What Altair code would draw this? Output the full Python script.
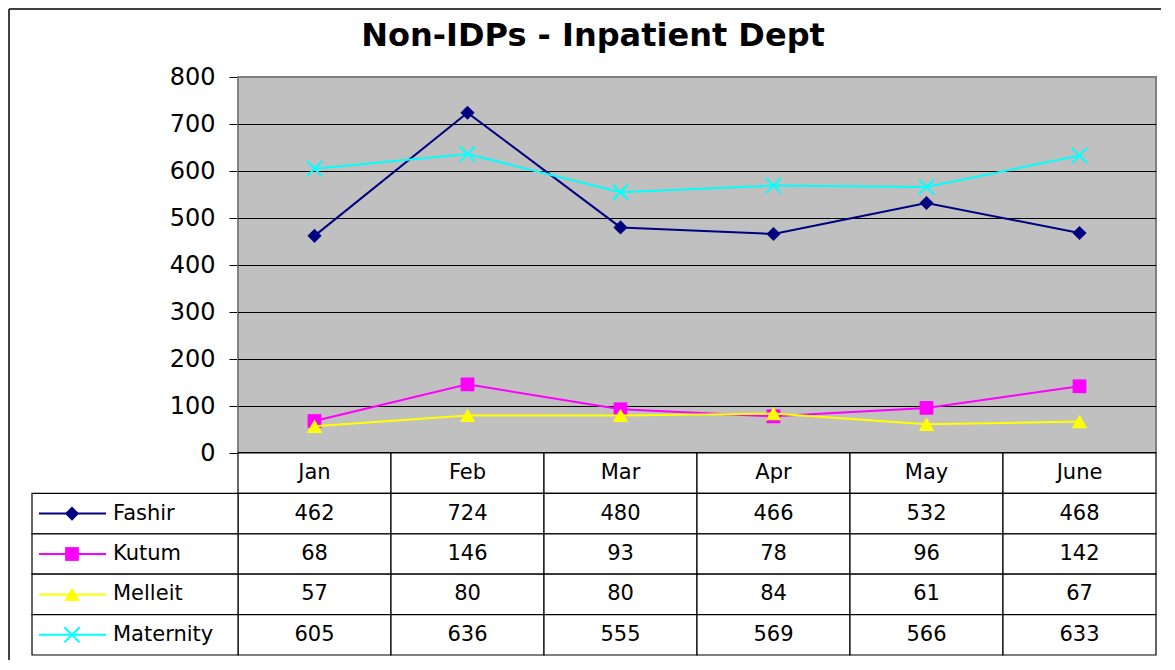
import altair as alt
import pandas as pd

# ---------------- data ----------------
title_text = "Non-IDPs - Inpatient Dept"
months = ["Jan", "Feb", "Mar", "Apr", "May", "June"]
series_names = ["Fashir", "Kutum", "Melleit", "Maternity"]
fashir = [462, 724, 480, 466, 532, 468]
kutum = [68, 146, 93, 78, 96, 142]
melleit = [57, 80, 80, 84, 61, 67]
maternity = [605, 636, 555, 569, 566, 633]
y_ticks = [0, 100, 200, 300, 400, 500, 600, 700, 800]
grid_values = [100, 200, 300, 400, 500, 600, 700]

# ---------------- styles ----------------
series_colors = ["#000080", "#FF00FF", "#FFFF00", "#00FFFF"]
X_PATH = "M-1,-1L1,1M-1,1L1,-1"
series_markers = [
    dict(shape="diamond", size=200, filled=True),
    dict(shape="square", size=190, filled=True),
    dict(shape="triangle-up", size=240, filled=True),
    dict(shape=X_PATH, size=230, filled=False),
]
FONT = "DejaVu Sans"
W, H_PLOT, H_TOTAL = 918, 376, 578

values_by_series = dict(zip(series_names, [fashir, kutum, melleit, maternity]))
rows = []
for s in series_names:
    for m, v in zip(months, values_by_series[s]):
        rows.append({"series": s, "row": s, "month": m, "value": v})
df = pd.DataFrame(rows)

HDR = "header"
df_hdr = pd.DataFrame({"month": months, "row": [HDR] * len(months)})
df_leg = pd.DataFrame({"row": series_names, "series": series_names})

xs = alt.Scale(type="band", domain=months, paddingInner=0, paddingOuter=0)
ys = alt.Scale(domain=[0, 800], range=[H_PLOT, 0], nice=False, zero=True)
ts = alt.Scale(type="band", domain=[HDR] + series_names,
               range=[H_PLOT, H_TOTAL], paddingInner=0, paddingOuter=0)

y_axis = alt.Axis(values=y_ticks, grid=False, domain=True,
                  domainColor="#606060", domainWidth=2,
                  tickColor="black", tickWidth=1, tickSize=9,
                  labelFont=FONT, labelFontSize=24, labelColor="black",
                  labelPadding=14)


def YQ(field):
    return alt.Y(field, scale=ys, axis=y_axis, title=None)


X = alt.X("month:N", scale=xs, axis=None, title=None)
YT = alt.Y("row:N", scale=ts, axis=None, title=None)

# ---------------- plot part ----------------
bg = alt.Chart(pd.DataFrame({"lo": [0], "hi": [800]})).mark_rect(
    fill="#C0C0C0", stroke="#808080", strokeWidth=2
).encode(x=alt.value(0), x2=alt.value(W), y=YQ("hi:Q"), y2="lo:Q")

grid = alt.Chart(pd.DataFrame({"v": grid_values})).mark_rule(
    color="black", strokeWidth=1, yOffset=0.5
).encode(y=YQ("v:Q"))

zero_line = alt.Chart(pd.DataFrame({"v": [0]})).mark_rule(
    color="black", strokeWidth=2
).encode(y=YQ("v:Q"))

plot_layers = [bg, grid, zero_line]
for s, c, mk in zip(series_names, series_colors, series_markers):
    base = alt.Chart(df).transform_filter(alt.datum.series == s)
    plot_layers.append(
        base.mark_line(color=c, strokeWidth=2).encode(x=X, y=YQ("value:Q"))
    )
    plot_layers.append(
        base.mark_point(shape=mk["shape"], size=mk["size"], filled=mk["filled"],
                        color=c, opacity=1, strokeWidth=2).encode(
            x=X, y=YQ("value:Q"))
    )

title = alt.Chart(pd.DataFrame({"t": [title_text]})).mark_text(
    font=FONT, fontSize=32, fontWeight="bold", align="center",
    baseline="alphabetic", color="black"
).encode(x=alt.value(355), y=alt.value(-31), text="t:N")

frame_left = alt.Chart(pd.DataFrame({"a": [0]})).mark_rule(
    color="#404040", strokeWidth=2
).encode(x=alt.value(-229), y=alt.value(-68), y2=alt.value(H_TOTAL + 6))
frame_top = alt.Chart(pd.DataFrame({"a": [0]})).mark_rule(
    color="#404040", strokeWidth=2
).encode(x=alt.value(-229), x2=alt.value(W + 6), y=alt.value(-68))

plot_layers += [title, frame_left, frame_top]
plot_part = alt.layer(*plot_layers)

# ---------------- data table part ----------------
cell_style = dict(fill="white", stroke="black", strokeWidth=1.2)
hdr_cells = alt.Chart(df_hdr).mark_rect(**cell_style).encode(x=X, y=YT)
body_cells = alt.Chart(df).mark_rect(**cell_style).encode(x=X, y=YT)
leg_cells = alt.Chart(df_leg).mark_rect(**cell_style).encode(
    x=alt.value(-206), x2=alt.value(0), y=YT)

txt_style = dict(font=FONT, fontSize=21, baseline="middle", color="black")
hdr_text = alt.Chart(df_hdr).mark_text(align="center", **txt_style).encode(x=X, y=YT, text="month:N")
val_text = alt.Chart(df).mark_text(align="center", **txt_style).encode(
    x=X, y=YT, text=alt.Text("value:Q", format="d"))
leg_text = alt.Chart(df_leg).mark_text(align="left", **txt_style).encode(
    x=alt.value(-125), y=YT, text="row:N")

table_layers = [hdr_cells, body_cells, leg_cells, hdr_text, val_text, leg_text]
for s, c, mk in zip(series_names, series_colors, series_markers):
    base = alt.Chart(df_leg).transform_filter(alt.datum.series == s)
    table_layers.append(
        base.mark_rule(color=c, strokeWidth=2).encode(
            x=alt.value(-199), x2=alt.value(-132), y=YT)
    )
    table_layers.append(
        base.mark_point(shape=mk["shape"], size=mk["size"], filled=mk["filled"],
                        color=c, opacity=1, strokeWidth=2).encode(
            x=alt.value(-166), y=YT)
    )
table_part = alt.layer(*table_layers)

chart = alt.layer(plot_part, table_part).resolve_scale(y="independent").properties(
    width=W, height=H_TOTAL,
    autosize=alt.AutoSizeParams(type="none"),
    padding={"left": 230, "top": 69, "right": 5, "bottom": 5},
    background="white",
).configure_view(strokeWidth=0)

chart.save("out.html", embed_options={"renderer": "svg", "actions": False})
